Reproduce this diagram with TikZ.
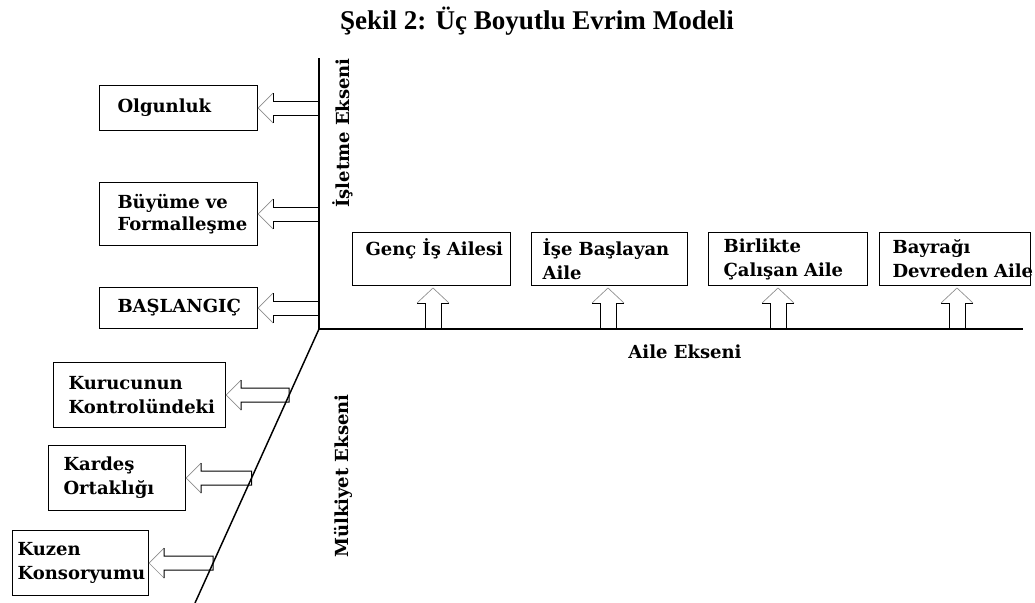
\documentclass[tikz,border=0pt]{standalone}
\usepackage{fontspec}
\setmainfont{DejaVu Serif}
\newfontfamily\titlefont{Liberation Serif}
\usetikzlibrary{calc}
\newcommand\lblfont{\bfseries\fontsize{13.5}{18}\selectfont}
\newcommand\lblfontb{\bfseries\fontsize{13.5}{16.5}\selectfont}
\newcommand\harrow[2]{%
  \draw[headline] ($(#1.east)+(15,-15)$) -- (#1.east) -- ($(#1.east)+(15,15)$);
  \draw[shaft] ($(#1.east)+(15,-15)$) -- ($(#1.east)+(15,-7)$) -- ($(#2)+(0,-7)$) -- ($(#2)+(0,7)$) -- ($(#1.east)+(15,7)$) -- ($(#1.east)+(15,15)$);
}
\newcommand\varrow[1]{%
  \draw[headline] ($(#1)+(-16,-26)$) -- ($(#1)+(0,-41)$) -- ($(#1)+(16,-26)$);
  \draw[shaft] ($(#1)+(-16,-26)$) -- ($(#1)+(-8,-26)$) -- ($(#1)+(-8,0)$);
  \draw[shaft] ($(#1)+(16,-26)$) -- ($(#1)+(8,-26)$) -- ($(#1)+(8,0)$);
}
\begin{document}
\begin{tikzpicture}[x=0.75pt,y=-0.75pt,
  box/.style={draw, line width=0.8pt, align=left, anchor=north west, inner ysep=0pt, font=\lblfont},
  lbl/.style={font=\lblfont, inner sep=0pt},
  ax/.style={line width=1.1pt},
  shaft/.style={line width=0.7pt},
  headline/.style={line width=0.5pt, black!45}]
\useasboundingbox (0,0) rectangle (1035,603);

\node[font=\titlefont\bfseries\fontsize{20.3}{22}\selectfont, inner sep=0pt] (title) at (537,21) {Şekil 2: Üç Boyutlu Evrim Modeli};

% axes
\coordinate (O) at (319,329);
\coordinate (T) at (319,58);
\coordinate (R) at (1023,329);
\coordinate (D) at (195,603);
\draw[ax] (T) -- (O) -- (R);
\draw[ax] (O) -- (D);

% left boxes (business axis)
\node[box, minimum width=118.5pt, text width=91.5pt, inner xsep=13.5pt, minimum height=33.75pt] (olg) at (99,85) {Olgunluk};
\node[box, font=\lblfontb, minimum width=118.5pt, text width=91.5pt, inner xsep=13.5pt, minimum height=47.25pt] (buy) at (99,182) {Büyüme~ve\\Formalleşme};
\node[box, minimum width=118.5pt, text width=91.5pt, inner xsep=13.5pt, minimum height=30.75pt] (bas) at (99,287) {BAŞLANGIÇ};

% ownership boxes
\node[box, text width=106.5pt, inner xsep=11.25pt, minimum height=48.75pt] (kur) at (53,362) {Kurucunun\\Kontrolündeki};
\node[box, text width=80.25pt, inner xsep=11.25pt, minimum height=48.75pt] (kar) at (48,445) {Kardeş\\Ortaklığı};
\node[box, text width=94.5pt, inner xsep=3.75pt, minimum height=48.75pt] (kuz) at (12,530) {Kuzen\\Konsoryumu};

% family boxes
\node[box, text width=99pt, inner xsep=9.75pt, minimum height=39.75pt] (genc) at (352,232) {Genç~İş~Ailesi\\\phantom{A}};
\node[box, text width=100.5pt, inner xsep=8.25pt, minimum height=39.75pt] (ise) at (531,232) {İşe~Başlayan\\Aile};
\node[box, text width=96.75pt, inner xsep=11.25pt, minimum height=39.75pt] (bir) at (708,232) {Birlikte\\Çalışan~Aile};
\node[box, text width=93.75pt, inner xsep=9.75pt, minimum height=39.75pt] (bay) at (879,232) {Bayrağı\\Devreden~Aile};

% axis labels
\node[lbl, rotate=90] (il) at (343,133) {İşletme Ekseni};
\node[lbl, rotate=90] (ml) at (343,476) {Mülkiyet Ekseni};
\node[lbl] (al) at (685,352) {Aile Ekseni};

% arrow end points
\coordinate (olgE) at (olg.east -| O);
\coordinate (buyE) at (buy.east -| O);
\coordinate (basE) at (bas.east -| O);
\coordinate (kurR) at ($(kur.east)+(400,0)$);
\coordinate (karR) at ($(kar.east)+(400,0)$);
\coordinate (kuzR) at ($(kuz.east)+(400,0)$);
\coordinate (kurE) at (intersection of kur.east--kurR and O--D);
\coordinate (karE) at (intersection of kar.east--karR and O--D);
\coordinate (kuzE) at (intersection of kuz.east--kuzR and O--D);

\harrow{olg}{olgE}
\harrow{buy}{buyE}
\harrow{bas}{basE}
\harrow{kur}{kurE}
\harrow{kar}{karE}
\harrow{kuz}{kuzE}

% up arrows on family axis
\coordinate (gA) at (433,329);
\coordinate (iA) at (608,329);
\coordinate (bA) at (778,329);
\coordinate (dA) at (957,329);
\varrow{gA}
\varrow{iA}
\varrow{bA}
\varrow{dA}
\end{tikzpicture}
\end{document}
